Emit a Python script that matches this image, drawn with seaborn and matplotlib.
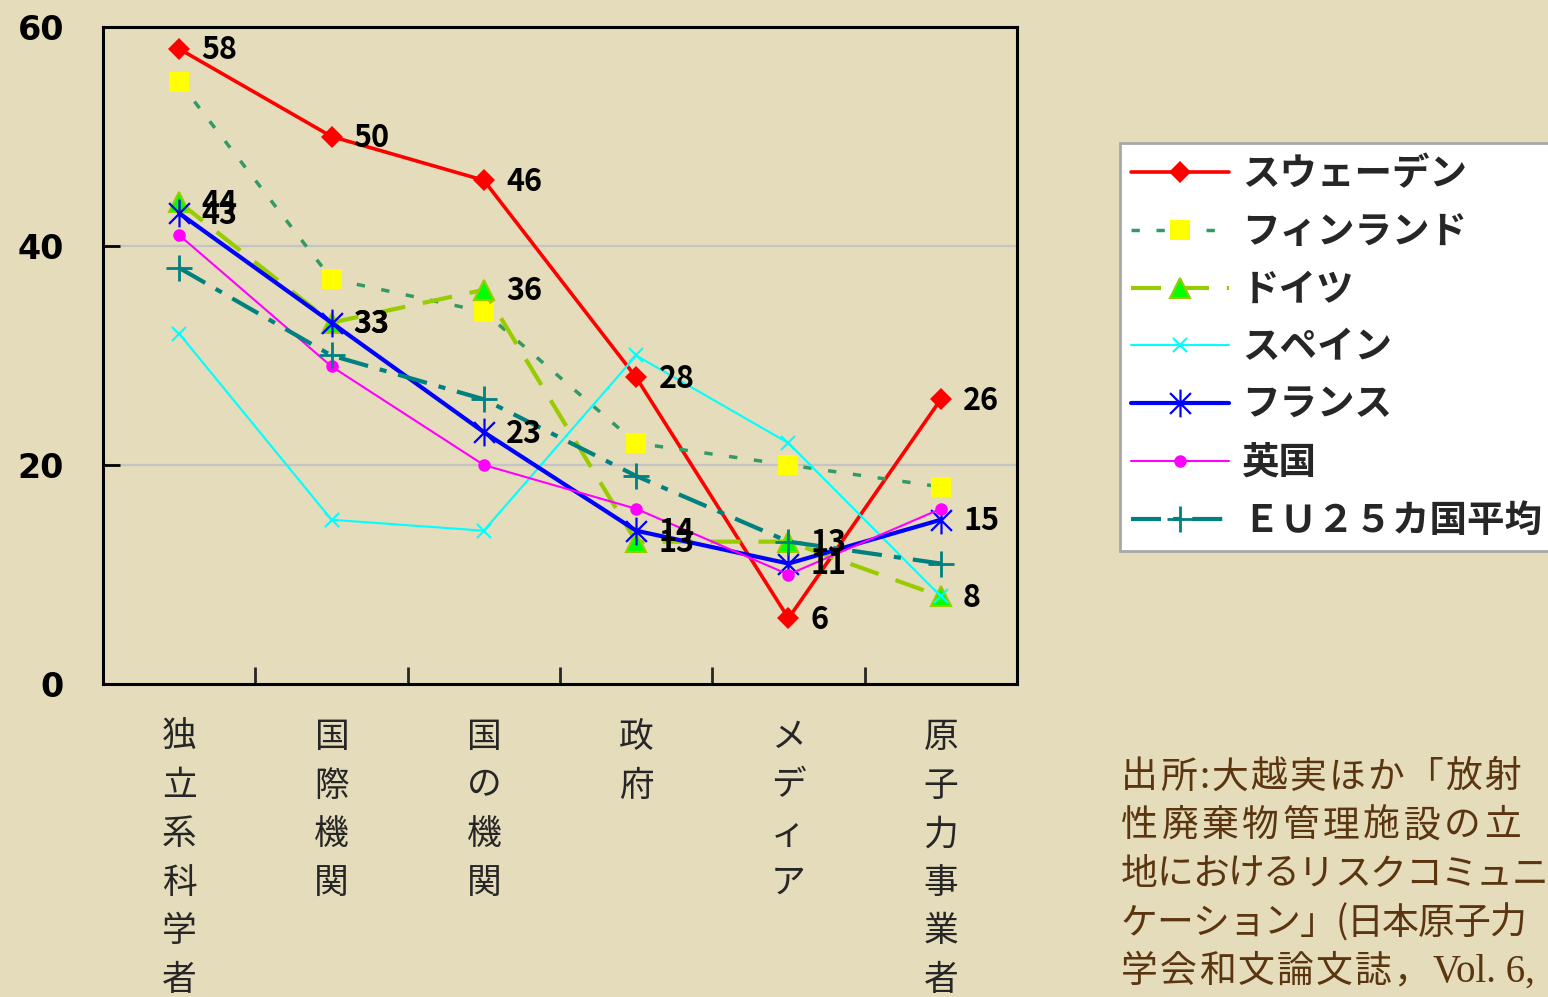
import numpy as np
import pandas as pd
import matplotlib
matplotlib.use("Agg")
import matplotlib.pyplot as plt
from matplotlib.path import Path
import seaborn as sns

# ---- data -------------------------------------------------------------
categories = ["独立系科学者", "国際機関", "国の機関", "政府", "メディア", "原子力事業者"]
series_names = ["スウェーデン", "フィンランド", "ドイツ", "スペイン", "フランス", "英国", "ＥＵ２５カ国平均"]
sweden = [58, 50, 46, 28, 6, 26]
finland = [55, 37, 34, 22, 20, 18]
germany = [44, 33, 36, 13, 13, 8]
spain = [32, 15, 14, 30, 22, 8]
france = [43, 33, 23, 14, 11, 15]
uk = [41, 29, 20, 16, 10, 16]
eu25 = [38, 30, 26, 19, 13, 11]
y_ticks = [0, 20, 40, 60]
source_lines = ["出所:大越実ほか「放射", "性廃棄物管理施設の立", "地におけるリスクコミュニ",
                "ケーション」(日本原子力", "学会和文論文誌，"]
source_tail = "Vol. 6,"

# ---- styling ----------------------------------------------------------
sns.set_theme(style="white")
plt.rcParams["font.family"] = ["Noto Sans CJK JP", "DejaVu Sans"]

BG = "#E4DCBA"
W, H = 1548, 997
fig = plt.figure(figsize=(W / 100, H / 100), dpi=100, facecolor=BG)
ax = fig.add_axes([103 / W, 1 - 684 / H, (1017 - 103) / W, (684 - 27) / H])
ax.set_facecolor(BG)

# six-armed asterisk marker
asterisk = Path(
    [(0, -1), (0, 1), (-0.75, -0.75), (0.75, 0.75), (-0.75, 0.75), (0.75, -0.75)],
    [Path.MOVETO, Path.LINETO, Path.MOVETO, Path.LINETO, Path.MOVETO, Path.LINETO],
)

styles = [
    dict(color="#FF0000", lw=2.6, ls="-", marker="D", ms=11.5, mfc="#FF0000", mec="#FF0000", mew=0),
    dict(color="#339966", lw=2.5, ls=(0, (2.4, 4.8)), marker="s", ms=15, mfc="#FFFF00", mec="#FFFF00", mew=0),
    dict(color="#99CC00", lw=3.0, ls=(0, (7.2, 4.3)), marker="^", ms=15, mfc="#00FF00", mec="#99CC00", mew=1.5),
    dict(color="#00FFFF", lw=1.5, ls="-", marker="x", ms=10, mfc="#00FFFF", mec="#00FFFF", mew=1.5),
    dict(color="#0000FF", lw=3.0, ls="-", marker=asterisk, ms=20, mfc="none", mec="#0000FF", mew=1.6),
    dict(color="#FF00FF", lw=1.5, ls="-", marker="o", ms=9, mfc="#FF00FF", mec="#FF00FF", mew=0),
    dict(color="#008080", lw=3.0, ls=(0, (7.2, 2.9, 1.7, 2.9)), marker="+", ms=19, mfc="#008080", mec="#008080", mew=2),
]

all_values = [sweden, finland, germany, spain, france, uk, eu25]
xpos = np.arange(len(categories))

for name, vals, st in zip(series_names, all_values, styles):
    df = pd.DataFrame({"x": xpos, "y": vals})
    sns.lineplot(data=df, x="x", y="y", ax=ax, label=name,
                 color=st["color"], linewidth=st["lw"], linestyle=st["ls"],
                 marker=st["marker"], markersize=st["ms"],
                 markerfacecolor=st["mfc"], markeredgecolor=st["mec"],
                 markeredgewidth=st["mew"], sort=False)

# value labels for Sweden, Germany and France
for vals in (sweden, germany, france):
    for xi, v in zip(xpos, vals):
        ax.annotate(str(v), (xi, v), xytext=(16, -1), textcoords="offset points",
                    ha="left", va="center", fontsize=22, fontweight="bold",
                    color="black", family=["Noto Sans CJK JP"])

# axes
ax.set_xlim(-0.5, len(categories) - 0.5)
ax.set_ylim(0, 60)
ax.set_xlabel("")
ax.set_ylabel("")
for s in ax.spines.values():
    s.set_color("black")
    s.set_linewidth(2.2)
    s.set_visible(True)

for g in (20, 40):
    ax.axhline(g, color="#C4C4C4", lw=1.6, zorder=0)

ax.set_yticks(y_ticks)
ax.set_yticklabels([str(t) for t in y_ticks], fontsize=24, fontweight="bold",
                   family=["DejaVu Sans"])
ax.tick_params(axis="y", direction="in", length=12, width=2, pad=28, left=True, colors="black")

ax.set_xticks(xpos)
ax.set_xticklabels(["\n".join(c) for c in categories], fontsize=25, va="top")
for t in ax.get_xticklabels():
    t.set_linespacing(1.5)
ax.set_xticks(np.arange(0.5, len(categories) - 1, 1), minor=True)
ax.tick_params(axis="x", which="major", length=0, pad=26)
ax.tick_params(axis="x", which="minor", direction="in", length=12, width=2, bottom=True)

ax.legend(loc="upper left", bbox_to_anchor=(1120 / W, 1 - 143 / H),
          bbox_transform=fig.transFigure, frameon=True, fancybox=False,
          facecolor="white", edgecolor="#A8A8A8", framealpha=1,
          prop={"family": ["Noto Sans CJK JP"], "size": 27, "weight": "bold"},
          handlelength=2.6, handletextpad=0.35, labelspacing=0.5,
          borderpad=0.3, borderaxespad=0, numpoints=1)
ax.get_legend().get_frame().set_linewidth(2)

# source note, each line spread evenly between its left and right edges
src_color = "#5A3510"
renderer = fig.canvas.get_renderer()


def justified_line(text, x_left, x_right, y_px, size):
    parts = [fig.text(0, 1 - y_px / H, ch, fontsize=size, color=src_color,
                      ha="left", va="center", family=["Noto Sans CJK JP"])
             for ch in text]
    widths = [p.get_window_extent(renderer).width for p in parts]
    gap = (x_right - x_left - sum(widths)) / max(len(parts) - 1, 1)
    x = x_left
    for p, w in zip(parts, widths):
        p.set_x(x / W)
        x += w + gap


line_edges = [(1121, 1521), (1121, 1521), (1121, 1548), (1121, 1526), (1121, 1430)]
for i, (line, (xl, xr)) in enumerate(zip(source_lines, line_edges)):
    justified_line(line, xl, xr, 777 + i * 48.7, 26.5)
fig.text(1433 / W, 1 - (777 + 4 * 48.7) / H, source_tail, fontsize=28,
         color=src_color, va="center", ha="left", family=["Liberation Serif"])

fig.savefig("out.png", dpi=100, facecolor=BG)
